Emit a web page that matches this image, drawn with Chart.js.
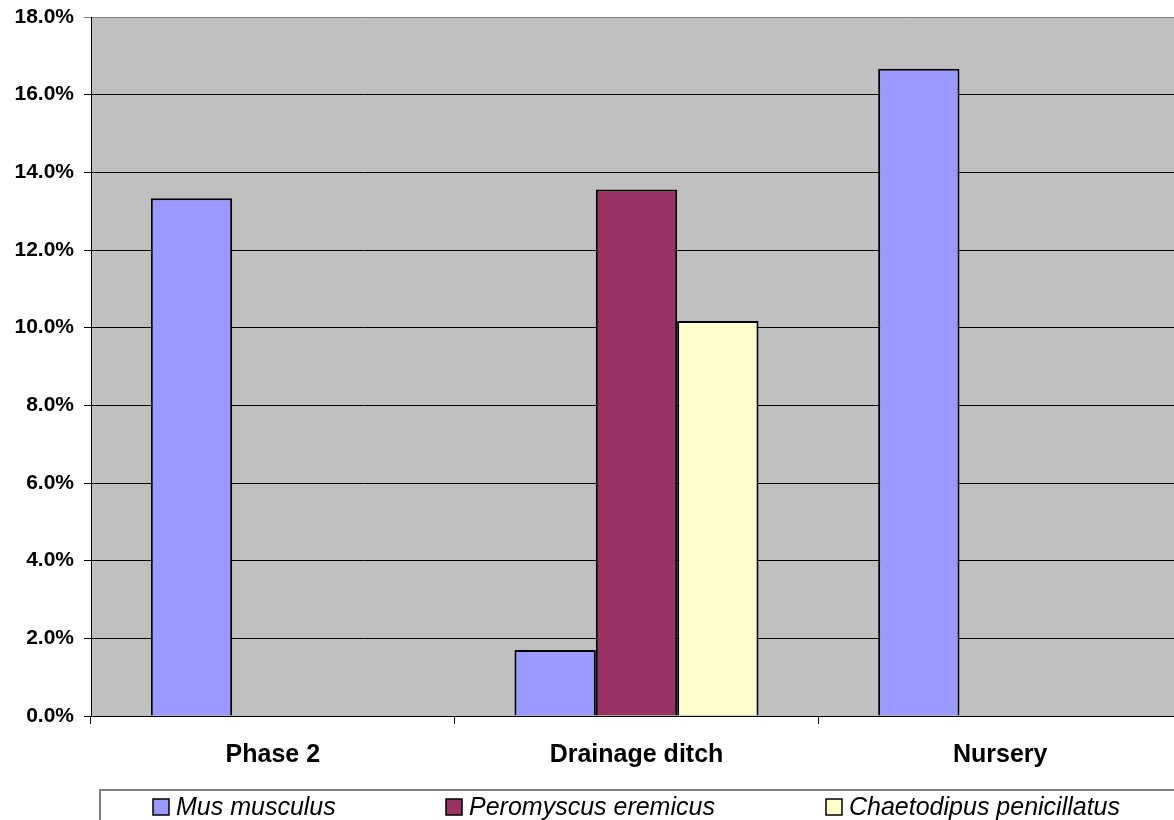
<!DOCTYPE html>
<html>
<head>
<meta charset="utf-8">
<script src="https://cdn.jsdelivr.net/npm/chart.js@4"></script>
<style>
  html, body { margin: 0; padding: 0; background: #fff; overflow: hidden; }
  .wrap { width: 1190px; height: 820px; }
</style>
</head>
<body>
<div class="wrap"><canvas id="myChart"></canvas></div>
<script>
// data (percent)
const sites = ['Phase 2', 'Drainage ditch', 'Nursery']
const musMusculus = [13.33, 1.70, 16.67]
const peromyscusEremicus = [null, 13.56, null]
const chaetodipusPenicillatus = [null, 10.17, null]
const yTicks = [0, 2, 4, 6, 8, 10, 12, 14, 16, 18]

const fontFamily = '"Liberation Sans", Arial, sans-serif'

// gray plot area
const plotBackground = {
  id: 'plotBackground',
  beforeDraw(chart) {
    const { ctx, chartArea } = chart
    ctx.save()
    ctx.fillStyle = '#C0C0C0'
    ctx.fillRect(chartArea.left, chartArea.top, chartArea.right - chartArea.left, chartArea.bottom - chartArea.top)
    ctx.restore()
  }
}

// excel style legend box under the chart
const boxLegend = {
  id: 'boxLegend',
  afterDraw(chart, args, opts) {
    const ctx = chart.ctx
    ctx.save()
    ctx.strokeStyle = '#808080'
    ctx.lineWidth = 2
    ctx.strokeRect(opts.left, opts.top, chart.width, 100)
    ctx.font = 'italic 25px ' + fontFamily
    ctx.textBaseline = 'alphabetic'
    chart.data.datasets.forEach((ds, i) => {
      const x = opts.items[i]
      ctx.fillStyle = ds.backgroundColor
      ctx.fillRect(x, opts.top + 9, 16, 16)
      ctx.strokeStyle = '#000'
      ctx.lineWidth = 1.5
      ctx.strokeRect(x, opts.top + 9, 16, 16)
      ctx.fillStyle = '#000'
      ctx.fillText(ds.label, x + 23, opts.top + 25)
    })
    ctx.restore()
  }
}

const ctx = document.getElementById('myChart')

new Chart(ctx, {
  type: 'bar',
  data: {
    labels: sites,
    datasets: [
      {
        label: 'Mus musculus',
        data: musMusculus,
        backgroundColor: '#9999FF',
        borderColor: '#000',
        borderWidth: 2
      },
      {
        label: 'Peromyscus eremicus',
        data: peromyscusEremicus,
        backgroundColor: '#993366',
        borderColor: '#000',
        borderWidth: 2
      },
      {
        label: 'Chaetodipus penicillatus',
        data: chaetodipusPenicillatus,
        backgroundColor: '#FFFFCC',
        borderColor: '#000',
        borderWidth: 2
      }
    ]
  },
  options: {
    responsive: true,
    maintainAspectRatio: false,
    animation: false,
    categoryPercentage: 0.671,
    barPercentage: 1,
    layout: {
      padding: { top: 17, right: 8, left: 0, bottom: 0 }
    },
    scales: {
      x: {
        offset: true,
        grid: {
          offset: true,
          drawOnChartArea: false,
          color: '#000',
          tickLength: 8
        },
        border: { color: '#000', width: 1 },
        ticks: {
          color: '#000',
          padding: 16,
          font: { family: fontFamily, size: 25, weight: 'bold' }
        },
        afterFit(scale) {
          scale.height = 104
          scale.paddingLeft = 0
          scale.paddingRight = 0
        }
      },
      y: {
        min: 0,
        max: 18,
        afterBuildTicks(scale) {
          scale.ticks = yTicks.map(v => ({ value: v }))
        },
        grid: {
          color: (c) => c.tick && c.tick.value === 18 ? '#808080' : '#000',
          lineWidth: 1,
          tickLength: 7
        },
        border: { color: '#000', width: 1 },
        ticks: {
          color: '#000',
          padding: 10,
          font: { family: fontFamily, size: 21, weight: 'bold' },
          callback: (v) => v.toFixed(1) + '%'
        },
        afterFit(scale) {
          scale.width = 91
          scale.paddingTop = 0
          scale.paddingBottom = 0
        }
      }
    },
    plugins: {
      legend: { display: false },
      tooltip: { enabled: false },
      boxLegend: {
        left: 100,
        top: 790,
        items: [153, 446, 826]
      }
    }
  },
  plugins: [plotBackground, boxLegend]
})
</script>
</body>
</html>
